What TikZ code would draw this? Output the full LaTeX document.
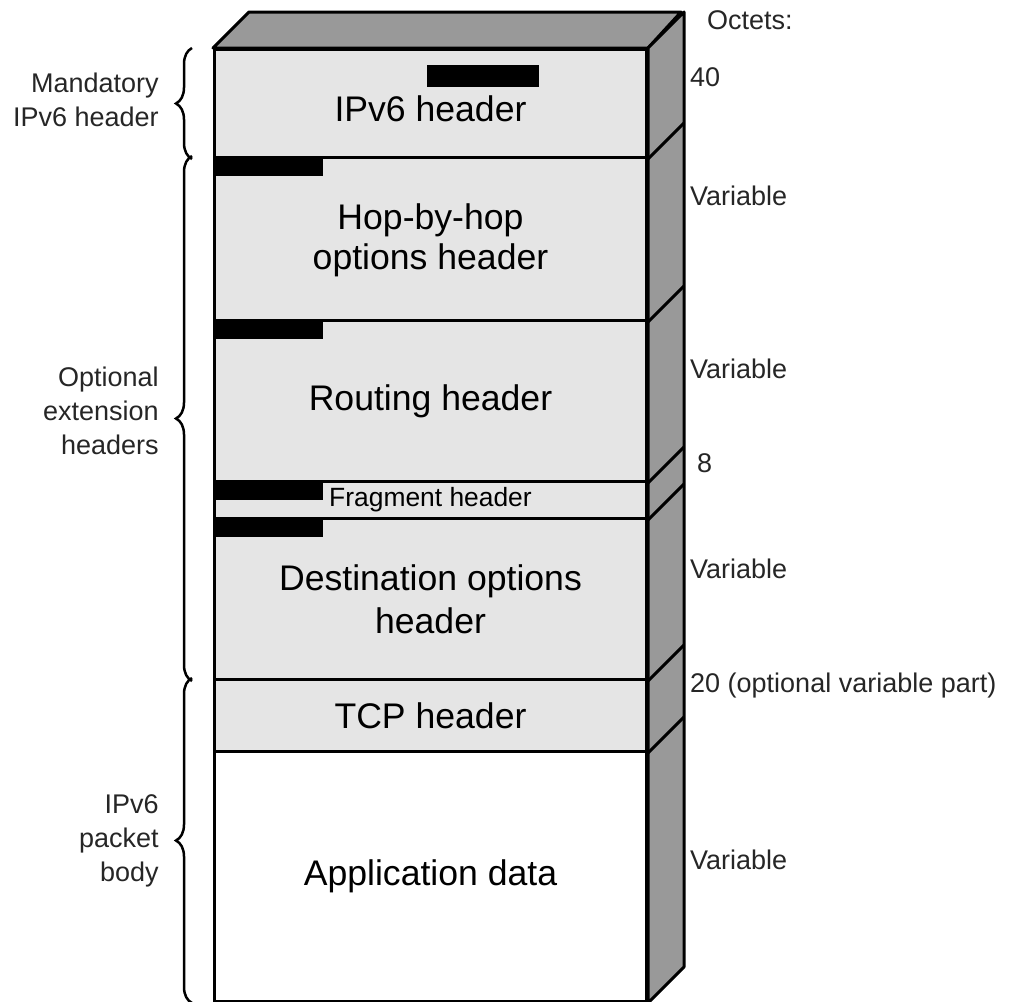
\documentclass[tikz,border=0pt]{standalone}
\usepackage{fontspec}
\setmainfont{Liberation Sans}
\usetikzlibrary{calc, decorations.pathreplacing}

\begin{document}
\begin{tikzpicture}[x=1pt, y=-1pt,
      layer/.style={draw, line width=3pt, fill=gray!20, minimum width=432pt, inner sep=0pt,
        anchor=north west, align=center, font=\fontsize{35.6}{43}\selectfont},
      small/.style={font=\fontsize{27}{34}\selectfont, text=black!85, inner sep=0pt},
      face/.style={draw, line width=3pt, fill=gray!80, line join=round},
      hbrace/.style={decorate, decoration={brace, amplitude=16pt}, line width=2.5pt}
    ]
    \useasboundingbox (0,0) rectangle (1011,1001);

    % Stack of headers, front face
    \node[layer, minimum height=108pt] (ipv6)    at (213,48)  {\raisebox{-5pt}[\height][\depth]{IPv6 header}};
    \node[layer, minimum height=163pt] (hop)     at (213,156) {\raisebox{-3pt}[\height][\depth]{Hop-by-hop}\\options header};
    \node[layer, minimum height=161pt] (routing) at (213,319) {Routing header};
    \node[layer, minimum height=37pt, font=\fontsize{26.4}{30}\selectfont] (frag) at (213,480) {Fragment header};
    \node[layer, minimum height=161pt] (dest)    at (213,517) {Destination options\\header};
    \node[layer, minimum height=72pt]  (tcp)     at (213,678) {TCP header};
    \node[layer, minimum height=250pt, fill=white] (app) at (213,750) {Application data};

    % Top and side faces
    \draw[face] (ipv6.north west) -- ++(36,-36) -- ++(432,0) -- (ipv6.north east) -- cycle;
    \draw[face] (ipv6.north east) -- ++(36,-36) -- ($(app.south east)+(36,-36)$) -- (app.south east) -- cycle;
    \foreach \n in {ipv6, hop, routing, frag, dest, tcp}
      \draw[line width=3pt] (\n.south east) -- ++(36,-36);

    % Next-header fields
    \fill (427,65) rectangle (539,87);
    \foreach \n in {hop, routing, frag, dest}
      \fill (\n.north west) rectangle ++(110,20);

    % Octet counts
    \node[small, anchor=west] (o0) at (707,20)  {Octets:};
    \node[small, anchor=west] (o1) at (690,77)  {40};
    \node[small, anchor=west] (o2) at (690,196) {Variable};
    \node[small, anchor=west] (o3) at (690,369) {Variable};
    \node[small, anchor=west] (o4) at (697,463) {8};
    \node[small, anchor=west] (o5) at (690,569) {Variable};
    \node[small, anchor=west] (o6) at (690,686) {20 (optional variable part)};
    \node[small, anchor=west] (o7) at (690,860) {Variable};

    % Groups on the left
    \draw[hbrace] ([xshift=-21pt]ipv6.south west) -- ([xshift=-21pt]ipv6.north west)
      node[small, midway, left=32pt, align=right, yshift=4pt] (g1) {Mandatory\\IPv6 header};
    \draw[hbrace] ([xshift=-21pt]dest.south west) -- ([xshift=-21pt]hop.north west)
      node[small, midway, left=32pt, align=right, yshift=8pt] (g2) {Optional\\extension\\headers};
    \draw[hbrace] ([xshift=-21pt]app.south west) -- ([xshift=-21pt]tcp.north west)
      node[small, midway, left=32pt, align=right] (g3) {IPv6\\packet\\body};
  \end{tikzpicture}
\end{document}
